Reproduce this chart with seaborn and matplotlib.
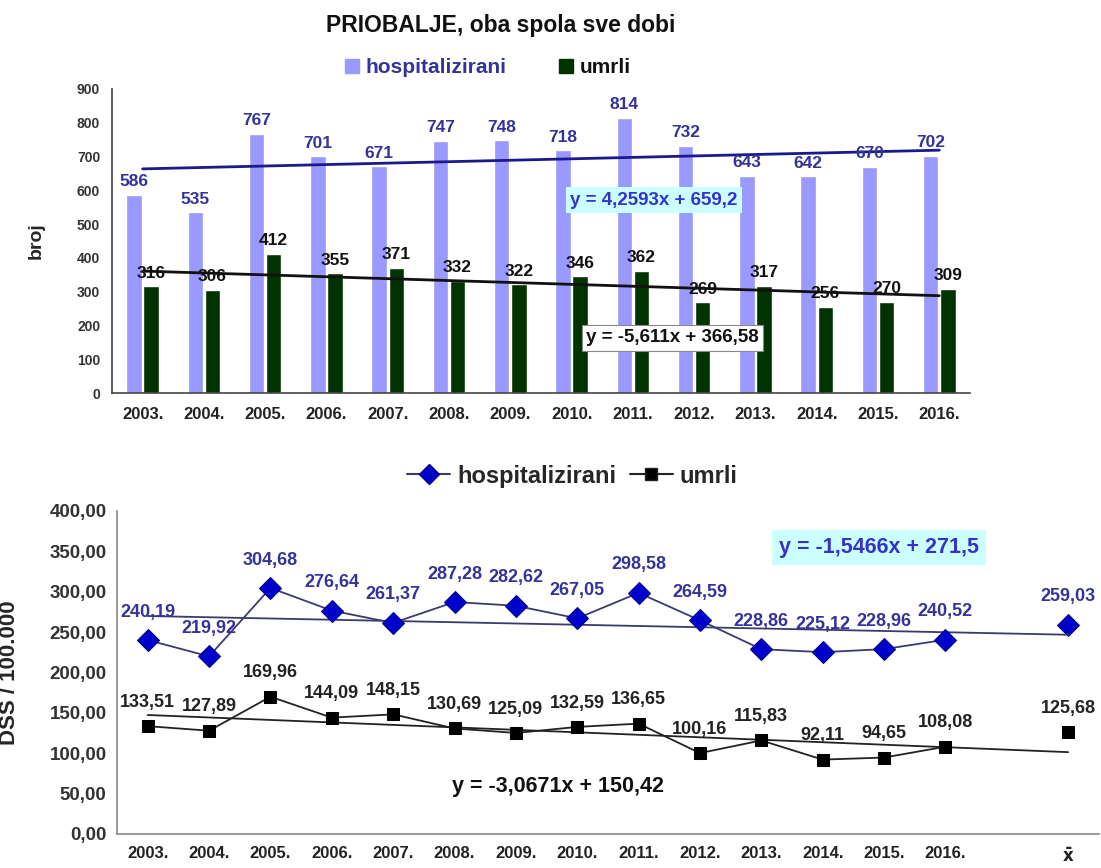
import numpy as np
import pandas as pd
import matplotlib
matplotlib.use("Agg")
import matplotlib.pyplot as plt
from matplotlib.lines import Line2D
from matplotlib.patches import Patch
import seaborn as sns

# data
years = ["2003.", "2004.", "2005.", "2006.", "2007.", "2008.", "2009.",
         "2010.", "2011.", "2012.", "2013.", "2014.", "2015.", "2016."]
hosp_cnt = [586, 535, 767, 701, 671, 747, 748, 718, 814, 732, 643, 642, 670, 702]
umrli_cnt = [316, 306, 412, 355, 371, 332, 322, 346, 362, 269, 317, 256, 270, 309]
hosp_rate = [240.19, 219.92, 304.68, 276.64, 261.37, 287.28, 282.62,
             267.05, 298.58, 264.59, 228.86, 225.12, 228.96, 240.52]
umrli_rate = [133.51, 127.89, 169.96, 144.09, 148.15, 130.69, 125.09,
              132.59, 136.65, 100.16, 115.83, 92.11, 94.65, 108.08]
hosp_mean = 259.03
umrli_mean = 125.68
mean_label = r"$\mathbf{\bar{x}}$"

# trend equations shown on the chart (slope, intercept)
trend_top = {"hospitalizirani": (4.2593, 659.2), "umrli": (-5.611, 366.58)}
trend_bot = {"hospitalizirani": (-1.5466, 271.5), "umrli": (-3.0671, 150.42)}

sns.set_style("white")
plt.rcParams["font.family"] = ["Liberation Sans", "DejaVu Sans"]
plt.rcParams["font.weight"] = "bold"

c_hosp_bar = "#9999ff"
c_umrli_bar = "#003300"
c_hosp_txt = "#33339a"
c_diamond = "#0000cc"

fig = plt.figure(figsize=(11.01, 8.68), dpi=100)
ax1 = fig.add_axes([0.1017, 0.5472, 0.7793, 0.3503])
ax2 = fig.add_axes([0.1063, 0.0392, 0.8917, 0.3721])

# ---------- top: counts ----------
df = pd.DataFrame({
    "year": years * 2,
    "series": ["hospitalizirani"] * 14 + ["umrli"] * 14,
    "value": hosp_cnt + umrli_cnt,
})
sns.barplot(data=df, x="year", y="value", hue="series", ax=ax1,
            palette=[c_hosp_bar, c_umrli_bar], width=0.56, gap=0.1,
            saturation=1, legend=False)

xpos = np.arange(len(years))
for name, col, lw in [("hospitalizirani", "#1a1a8c", 2.0), ("umrli", "#111111", 2.0)]:
    a, b = trend_top[name]
    sns.lineplot(x=xpos, y=a * (xpos + 1) + b, ax=ax1, color=col, lw=lw)

for cont, color in zip(ax1.containers, [c_hosp_txt, "#111111"]):
    labels = [f"{int(round(bar.get_height()))}" for bar in cont]
    ax1.bar_label(cont, labels=labels, padding=4, fontsize=12.5,
                  color=color, fontweight="bold")

ax1.text(8.34, 571, "y = 4,2593x + 659,2", ha="center", va="center",
         fontsize=13.5, color="#3333cc", fontweight="bold",
         bbox=dict(facecolor="#ccffff", edgecolor="none", pad=3))
ax1.text(8.65, 163, "y = -5,611x + 366,58", ha="center", va="center",
         fontsize=13.5, color="#111111", fontweight="bold",
         bbox=dict(facecolor="white", edgecolor="#888888", lw=0.8, pad=3))

ax1.set_ylim(0, 900)
ax1.set_xlim(-0.5, 13.5)
ax1.set_yticks(range(0, 901, 100))
ax1.set_xticks(np.arange(-0.5, 14, 1), minor=True)
ax1.tick_params(axis="x", which="major", length=0, labelsize=12,
                labelcolor="#222222", pad=10)
ax1.tick_params(axis="x", which="minor", length=5, direction="out",
                color="#444444", width=1.2)
ax1.tick_params(axis="y", length=5, direction="out", color="#444444",
                width=1.2, labelsize=10, labelcolor="#333333")
for lab in ax1.get_xticklabels() + ax1.get_yticklabels():
    lab.set_fontweight("bold")
ax1.set_xlabel("")
ax1.set_ylabel("broj", fontsize=14, fontweight="bold")
ax1.yaxis.set_label_coords(-0.078, 0.5)
for s in ["top", "right"]:
    ax1.spines[s].set_visible(False)
for s in ["left", "bottom"]:
    ax1.spines[s].set_color("#444444")
    ax1.spines[s].set_linewidth(1.2)

fig.text(0.455, 0.971, "PRIOBALJE, oba spola sve dobi", ha="center",
         va="center", fontsize=16.5, fontweight="bold", color="#111111")
leg1 = fig.legend(handles=[Patch(color=c_hosp_bar), Patch(color=c_umrli_bar)],
                  labels=["hospitalizirani", "umrli"], loc="center",
                  bbox_to_anchor=(0.443, 0.9217), ncol=2, frameon=False,
                  handlelength=0.7, handleheight=0.7, handletextpad=0.3,
                  columnspacing=2.5, prop={"size": 15, "weight": "bold"})
leg1.get_texts()[0].set_color(c_hosp_txt)
leg1.get_texts()[1].set_color("#111111")

# ---------- bottom: rates ----------
mean_pos = len(years) + 1
rates = pd.DataFrame({
    "x": np.concatenate([xpos, xpos]),
    "value": hosp_rate + umrli_rate,
    "series": ["hospitalizirani"] * 14 + ["umrli"] * 14,
})
xfull = np.arange(0, mean_pos + 1)
for name, col in [("hospitalizirani", "#3a3a70"), ("umrli", "#222222")]:
    a, b = trend_bot[name]
    sns.lineplot(x=xfull, y=a * (xfull + 1) + b, ax=ax2, color=col, lw=1.3)

sub_h = rates[rates.series == "hospitalizirani"]
sub_u = rates[rates.series == "umrli"]
sns.lineplot(data=sub_h, x="x", y="value", ax=ax2, color="#3a3a70", lw=1.3,
             marker="D", markersize=11, markerfacecolor=c_diamond,
             markeredgecolor="#000088")
sns.lineplot(data=sub_u, x="x", y="value", ax=ax2, color="#222222", lw=1.3,
             marker="s", markersize=9, markerfacecolor="#000000",
             markeredgecolor="#000000")
sns.scatterplot(x=[mean_pos], y=[hosp_mean], ax=ax2, marker="D", s=121,
                color=c_diamond, edgecolor="#000088")
sns.scatterplot(x=[mean_pos], y=[umrli_mean], ax=ax2, marker="s", s=81,
                color="#000000", edgecolor="#000000")

def fmt(v):
    return f"{v:.2f}".replace(".", ",")

for xi, v in zip(list(xpos) + [mean_pos], hosp_rate + [hosp_mean]):
    ax2.annotate(fmt(v), (xi, v), xytext=(0, 14), textcoords="offset points",
                 ha="center", va="bottom", fontsize=13, color=c_hosp_txt,
                 fontweight="bold")
for xi, v in zip(list(xpos) + [mean_pos], umrli_rate + [umrli_mean]):
    ax2.annotate(fmt(v), (xi, v), xytext=(0, 11), textcoords="offset points",
                 ha="center", va="bottom", fontsize=13, color="#222222",
                 fontweight="bold")

ax2.text(11.92, 355, "y = -1,5466x + 271,5", ha="center", va="center",
         fontsize=15.5, color="#3333cc", fontweight="bold",
         bbox=dict(facecolor="#ccffff", edgecolor="none", pad=5))
ax2.text(6.69, 59.4, "y = -3,0671x + 150,42", ha="center", va="center",
         fontsize=15.5, color="#111111", fontweight="bold")

ax2.set_xlim(-0.5, mean_pos + 0.5)
ax2.set_ylim(0, 400)
ax2.set_yticks(range(0, 401, 50))
ax2.set_yticklabels([fmt(v) for v in range(0, 401, 50)])
ax2.set_xticks(list(xpos) + [mean_pos])
ax2.set_xticklabels(years + [mean_label])
ax2.tick_params(axis="x", length=0, labelsize=12, labelcolor="#222222", pad=9)
ax2.tick_params(axis="y", length=4, direction="out", color="#888888",
                labelsize=13.5, labelcolor="#333333")
for lab in ax2.get_xticklabels() + ax2.get_yticklabels():
    lab.set_fontweight("bold")
ax2.set_xlabel("")
ax2.set_ylabel("DSS / 100.000", fontsize=16, fontweight="bold")
ax2.yaxis.set_label_coords(-0.0986, 0.5)
for s in ["top", "right"]:
    ax2.spines[s].set_visible(False)
for s in ["left", "bottom"]:
    ax2.spines[s].set_color("#888888")
    ax2.spines[s].set_linewidth(1.2)

fig.legend(handles=[Line2D([], [], color="#3a3a70", lw=1.5, marker="D",
                           markersize=10, markerfacecolor=c_diamond,
                           markeredgecolor="#000088"),
                    Line2D([], [], color="#222222", lw=1.5, marker="s",
                           markersize=8, markerfacecolor="#000000")],
           labels=["hospitalizirani", "umrli"], loc="center",
           bbox_to_anchor=(0.52, 0.4516), ncol=2, frameon=False,
           handlelength=1.8, handletextpad=0.3, columnspacing=0.6,
           prop={"size": 17, "weight": "bold"})

fig.savefig("out.png", dpi=100)
